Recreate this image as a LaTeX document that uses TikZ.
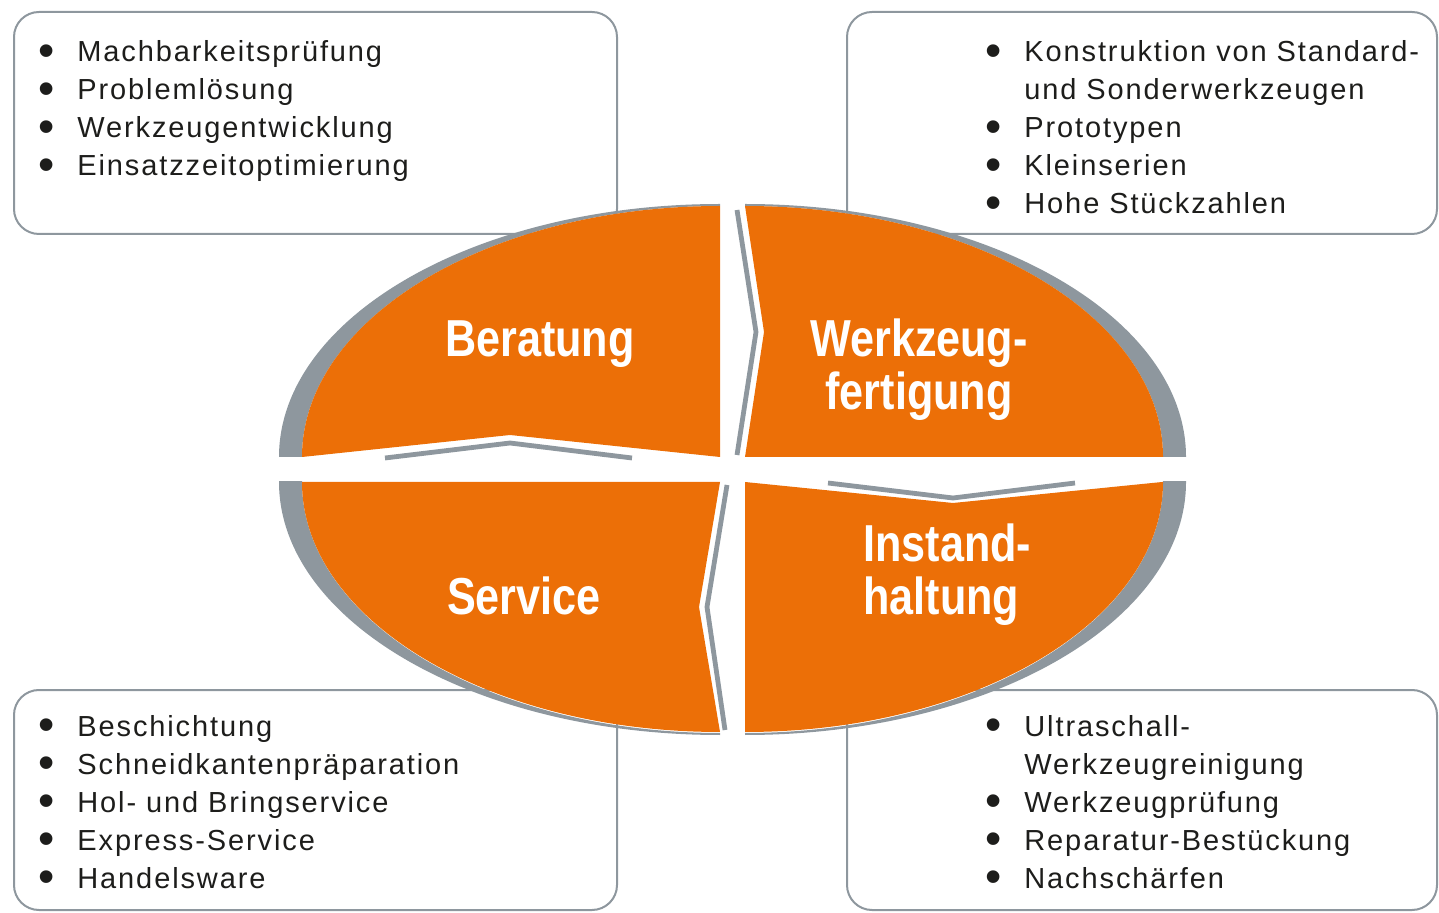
\documentclass[tikz,border=0pt]{standalone}
\usepackage{graphicx}
\usepackage{fontspec}
\setmainfont{Liberation Sans}
\newfontfamily\labelfont[FakeStretch=0.83]{Liberation Sans}
\newfontfamily\listfont[LetterSpace=6.5]{Liberation Sans}
\definecolor{quadorange}{HTML}{EC6F07}
\definecolor{shadegray}{HTML}{8E979E}
\definecolor{textblack}{HTML}{1D1D1B}
\newcommand{\bulletmark}{\makebox[19.5pt][l]{\smash{\raisebox{-2.3pt}{\scalebox{1.6}{\textbullet}}}}}
\newcommand{\hangmark}{\hspace*{19.5pt}}

\begin{document}
\begin{tikzpicture}[x=0.5pt, y=-0.5pt]
    % Define styles
    \tikzstyle{infobox} = [draw=shadegray, line width=1pt, rounded corners=12.5pt]
    \tikzstyle{itemlist} = [anchor=base west, align=left, inner sep=0pt, text=textblack, font=\listfont\fontsize{14.5}{19}\selectfont]
    \tikzstyle{sectorlabel} = [text=white, inner sep=0pt, font=\labelfont\bfseries\fontsize{26}{26.5}\selectfont]
    \tikzstyle{notch} = [draw=shadegray, line width=2.4pt]
    \tikzstyle{sector} = [fill=quadorange]

    \useasboundingbox (0,0) rectangle (1439,913);

    % Boxes
    \draw [infobox] (14,12) rectangle (617,234);
    \draw [infobox] (847,12) rectangle (1437,234);
    \draw [infobox] (14,690) rectangle (617,910);
    \draw [infobox] (847,690) rectangle (1437,910);

    % Shadows
    \foreach \cx/\cy/\sx/\sy in {720/457/-1/-1, 745/457/1/-1, 745/482/1/1, 720/482/-1/1} {
        \begin{scope}
            \clip (\cx,\cy) rectangle ++(\sx*470,\sy*300);
            \fill [shadegray, even odd rule] (\cx,\cy) ellipse [x radius=220.5pt, y radius=126.5pt]
                (\cx,\cy) ellipse [x radius=209pt, y radius=125.5pt];
        \end{scope}
    }

    % Sectors
    \begin{scope}
        \clip (720,150) -- (720,457) -- (510,435) -- (302,457) -- (270,457) -- (270,150) -- cycle;
        \fill [sector] (720,457) ellipse [x radius=209pt, y radius=125.5pt];
    \end{scope}
    \begin{scope}
        \clip (745,150) -- (745,206) -- (764,332) -- (745,457) -- (1200,457) -- (1200,150) -- cycle;
        \fill [sector] (745,457) ellipse [x radius=209pt, y radius=125.5pt];
    \end{scope}
    \begin{scope}
        \clip (745,482) -- (953,503) -- (1162,482) -- (1200,482) -- (1200,760) -- (745,760) -- cycle;
        \fill [sector] (745,482) ellipse [x radius=209pt, y radius=125pt];
    \end{scope}
    \begin{scope}
        \clip (720,482) -- (699,607) -- (720,732) -- (720,760) -- (270,760) -- (270,482) -- cycle;
        \fill [sector] (720,482) ellipse [x radius=209pt, y radius=125pt];
    \end{scope}

    % Notches
    \draw [notch] (385,458) -- (510,443) -- (632,458);
    \draw [notch] (737,210) -- (756,332) -- (737,455);
    \draw [notch] (828,483) -- (953,498) -- (1075,483);
    \draw [notch] (727,485) -- (707,607) -- (725,730);

    % Labels
    \node [sectorlabel, anchor=base] (beratung) at (540,357) {Beratung};
    \node [sectorlabel, anchor=base, align=center] (fertigung) at (919,410) {Werkzeug-\\fertigung};
    \node [sectorlabel, anchor=base west, align=left] (instand) at (863,615) {Instand-\\haltung};
    \node [sectorlabel, anchor=base] (service) at (524,615) {Service};

    % Lists
    \node [itemlist] (beratunglist) at (38,176) {\bulletmark Machbarkeitsprüfung\\
        \bulletmark Problemlösung\\ \bulletmark Werkzeugentwicklung\\ \bulletmark Einsatzzeitoptimierung};
    \node [itemlist] (fertigunglist) at (985,214) {\bulletmark Konstruktion von Standard-\\
        \hangmark und Sonderwerkzeugen\\ \bulletmark Prototypen\\ \bulletmark Kleinserien\\ \bulletmark Hohe Stückzahlen};
    \node [itemlist] (servicelist) at (38,888) {\bulletmark Beschichtung\\
        \bulletmark Schneidkantenpräparation\\ \bulletmark Hol- und Bringservice\\ \bulletmark Express-Service\\ \bulletmark Handelsware};
    \node [itemlist] (instandlist) at (985,888) {\bulletmark Ultraschall-\\
        \hangmark Werkzeugreinigung\\ \bulletmark Werkzeugprüfung\\ \bulletmark Reparatur-Bestückung\\ \bulletmark Nachschärfen};
\end{tikzpicture}
\end{document}
